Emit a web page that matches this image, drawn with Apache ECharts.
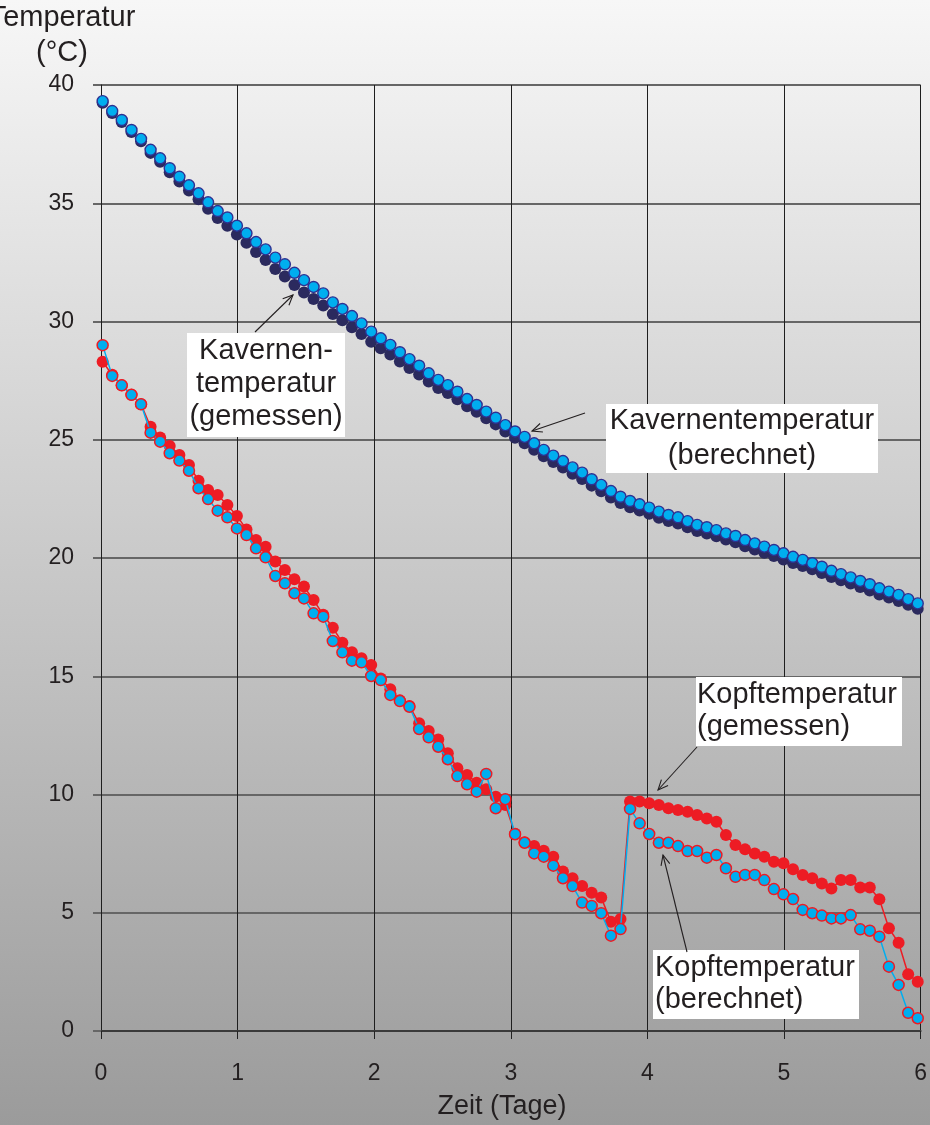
<!DOCTYPE html>
<html>
<head>
<meta charset="utf-8">
<script src="https://cdn.jsdelivr.net/npm/echarts@6/dist/echarts.min.js"></script>
<style>
  html, body { margin: 0; padding: 0; }
  #chart { width: 930px; height: 1125px; background: linear-gradient(to bottom, #f7f7f7 0%, #9b9b9b 100%); }
</style>
</head>
<body>
<div id="chart"></div>
<script>
// Sampling times (days) read from the point positions
const times = [0.012, 0.082, 0.152, 0.223, 0.293, 0.363, 0.433, 0.503, 0.574, 0.644,
  0.714, 0.784, 0.854, 0.925, 0.995, 1.065, 1.135, 1.205, 1.276, 1.346,
  1.416, 1.486, 1.556, 1.627, 1.697, 1.767, 1.837, 1.907, 1.978, 2.048,
  2.118, 2.188, 2.258, 2.329, 2.399, 2.469, 2.539, 2.609, 2.680, 2.750,
  2.820, 2.890, 2.960, 3.031, 3.101, 3.171, 3.241, 3.311, 3.382, 3.452,
  3.522, 3.592, 3.662, 3.733, 3.803, 3.873, 3.943, 4.013, 4.084, 4.154,
  4.224, 4.294, 4.364, 4.435, 4.505, 4.575, 4.645, 4.715, 4.786, 4.856,
  4.926, 4.996, 5.066, 5.137, 5.207, 5.277, 5.347, 5.417, 5.488, 5.558,
  5.628, 5.698, 5.768, 5.839, 5.909, 5.979];

// Kavernentemperatur (gemessen)
const kavMeasured = [39.25, 38.82, 38.44, 38.01, 37.62, 37.13, 36.75, 36.31, 35.92, 35.54,
  35.17, 34.77, 34.38, 34.05, 33.68, 33.33, 32.94, 32.60, 32.22, 31.90,
  31.54, 31.23, 30.95, 30.68, 30.32, 30.05, 29.76, 29.47, 29.14, 28.87,
  28.60, 28.31, 28.03, 27.76, 27.46, 27.19, 26.98, 26.71, 26.42, 26.18,
  25.91, 25.65, 25.35, 25.08, 24.85, 24.58, 24.30, 24.06, 23.83, 23.56,
  23.34, 23.06, 22.82, 22.56, 22.33, 22.15, 22.01, 21.87, 21.70, 21.56,
  21.46, 21.30, 21.14, 21.04, 20.92, 20.78, 20.67, 20.50, 20.36, 20.22,
  20.08, 19.94, 19.79, 19.66, 19.52, 19.37, 19.20, 19.06, 18.92, 18.77,
  18.63, 18.46, 18.33, 18.18, 18.02, 17.85];

// Kavernentemperatur (berechnet)
const kavCalc = [39.32, 38.90, 38.52, 38.10, 37.72, 37.26, 36.90, 36.48, 36.12, 35.76,
  35.42, 35.04, 34.67, 34.40, 34.05, 33.73, 33.36, 33.05, 32.70, 32.42,
  32.06, 31.75, 31.46, 31.19, 30.81, 30.53, 30.23, 29.92, 29.57, 29.29,
  29.01, 28.70, 28.41, 28.13, 27.81, 27.53, 27.31, 27.03, 26.72, 26.47,
  26.19, 25.93, 25.62, 25.35, 25.12, 24.85, 24.57, 24.33, 24.10, 23.83,
  23.61, 23.33, 23.09, 22.83, 22.59, 22.41, 22.27, 22.13, 21.96, 21.82,
  21.72, 21.56, 21.40, 21.30, 21.18, 21.04, 20.93, 20.76, 20.62, 20.48,
  20.34, 20.20, 20.05, 19.92, 19.78, 19.63, 19.46, 19.32, 19.18, 19.03,
  18.89, 18.72, 18.58, 18.44, 18.26, 18.08];

// Kopftemperatur (gemessen)
const kopfMeasured = [28.30, 27.75, 27.30, 26.90, 26.50, 25.55, 25.10, 24.74, 24.36, 23.93,
  23.27, 22.88, 22.66, 22.24, 21.78, 21.21, 20.76, 20.48, 19.85, 19.49,
  19.10, 18.79, 18.22, 17.60, 17.05, 16.42, 16.01, 15.76, 15.48, 14.90,
  14.45, 13.98, 13.74, 13.01, 12.69, 12.33, 11.74, 11.11, 10.82, 10.50,
  10.22, 9.91, 9.56, 8.34, 7.98, 7.82, 7.62, 7.37, 6.74, 6.46,
  6.13, 5.85, 5.64, 4.62, 4.74, 9.70, 9.70, 9.63, 9.56, 9.42,
  9.34, 9.27, 9.13, 8.99, 8.85, 8.29, 7.86, 7.68, 7.51, 7.37,
  7.16, 7.09, 6.84, 6.60, 6.46, 6.24, 6.03, 6.38, 6.38, 6.07,
  6.07, 5.57, 4.34, 3.73, 2.40, 2.08];

// Kopftemperatur (berechnet)
const kopfCalc = [29.00, 27.70, 27.30, 26.90, 26.50, 25.30, 24.92, 24.43, 24.12, 23.69,
  22.95, 22.49, 22.00, 21.72, 21.25, 20.97, 20.41, 20.03, 19.24, 18.93,
  18.51, 18.29, 17.66, 17.52, 16.49, 16.01, 15.66, 15.59, 15.01, 14.84,
  14.21, 13.95, 13.71, 12.77, 12.42, 12.02, 11.49, 10.78, 10.43, 10.12,
  10.87, 9.42, 9.80, 8.32, 7.96, 7.51, 7.37, 6.99, 6.46, 6.13,
  5.43, 5.29, 4.98, 4.03, 4.31, 9.39, 8.78, 8.33, 7.96, 7.96,
  7.82, 7.61, 7.61, 7.33, 7.44, 6.88, 6.52, 6.60, 6.60, 6.38,
  6.00, 5.78, 5.58, 5.12, 4.98, 4.88, 4.76, 4.76, 4.90, 4.30,
  4.24, 3.99, 2.72, 1.95, 0.77, 0.54];

const xTickLabels = ['0', '1', '2', '3', '4', '5', '6'];
const yTickLabels = ['0', '5', '10', '15', '20', '25', '30', '35', '40'];

const FONT = "'Liberation Sans', Arial, Helvetica, sans-serif";
const TXT = '#231f20';

function pairs(vals) { return times.map((t, i) => [t, vals[i]]); }

function textEl(x, y, str, size, align) {
  return { type: 'text', x: x, y: y, z: 50,
    style: { text: str, fill: TXT, font: size + 'px ' + FONT, textAlign: align || 'center', textVerticalAlign: 'middle' } };
}
function boxEl(x1, y1, x2, y2) {
  return { type: 'rect', z: 45, shape: { x: x1, y: y1, width: x2 - x1, height: y2 - y1 }, style: { fill: '#ffffff' } };
}
function arrowEls(x1, y1, x2, y2) {
  const a = Math.atan2(y2 - y1, x2 - x1), L = 11, w = 0.42;
  const p1 = [x2 - L * Math.cos(a - w), y2 - L * Math.sin(a - w)];
  const p2 = [x2 - L * Math.cos(a + w), y2 - L * Math.sin(a + w)];
  const st = { stroke: '#231f20', lineWidth: 1.1, fill: null };
  return [
    { type: 'line', z: 46, shape: { x1: x1, y1: y1, x2: x2, y2: y2 }, style: st },
    { type: 'polyline', z: 46, shape: { points: [p1, [x2, y2], p2] }, style: st }
  ];
}

const chart = echarts.init(document.getElementById('chart'), null, { renderer: 'canvas' });

const graphics = [].concat(
  [textEl(62, 18, 'Temperatur', 29), textEl(62, 53, '(°C)', 29), textEl(502, 1107, 'Zeit (Tage)', 27)],
  [boxEl(187, 333, 345, 437), textEl(266, 351, 'Kavernen-', 29), textEl(266, 384, 'temperatur', 29), textEl(266, 417, '(gemessen)', 29)],
  arrowEls(255, 332, 293, 295),
  [boxEl(606, 404, 878, 473), textEl(742, 421, 'Kavernentemperatur', 29), textEl(742, 456, '(berechnet)', 29)],
  arrowEls(585, 413, 532, 431),
  [boxEl(696, 677, 902, 746), textEl(697, 694.5, 'Kopftemperatur', 29, 'left'), textEl(697, 726.5, '(gemessen)', 29, 'left')],
  arrowEls(697, 747, 658, 790),
  [boxEl(653, 950, 859, 1019), textEl(655, 968, 'Kopftemperatur', 29, 'left'), textEl(655, 1000, '(berechnet)', 29, 'left')],
  arrowEls(687, 952, 663, 855)
);

chart.setOption({
  backgroundColor: 'transparent',
  animation: false,
  textStyle: { fontFamily: FONT },
  grid: { left: 101, right: 8, top: 85, bottom: 94, containLabel: false },
  xAxis: {
    type: 'value', min: 0, max: 6, interval: 1,
    axisLine: { show: true, onZero: false, lineStyle: { color: '#3a3a3a', width: 2 } },
    axisTick: { show: true, length: 8, lineStyle: { color: '#222', width: 1 } },
    axisLabel: { margin: 31, fontSize: 23, color: TXT, fontFamily: FONT,
      formatter: v => xTickLabels[Math.round(v)] },
    splitLine: { show: true, lineStyle: { color: '#1e1e1e', width: 1 } }
  },
  yAxis: {
    type: 'value', min: 0, max: 40, interval: 5,
    axisLine: { show: true, lineStyle: { color: '#1e1e1e', width: 1 } },
    axisTick: { show: true, length: 8, lineStyle: { color: '#666', width: 2 } },
    axisLabel: { margin: 27, fontSize: 23, color: TXT, fontFamily: FONT,
      formatter: v => yTickLabels[Math.round(v / 5)] },
    splitLine: { show: true, lineStyle: { color: '#666', width: 2 } }
  },
  series: [
    { name: 'Kavernentemperatur (gemessen)', type: 'scatter', data: pairs(kavMeasured),
      symbol: 'circle', symbolSize: 12, itemStyle: { color: '#2b2a5e', opacity: 1 }, z: 2 },
    { name: 'Kavernentemperatur (berechnet)', type: 'scatter', data: pairs(kavCalc),
      symbol: 'circle', symbolSize: 11, itemStyle: { color: '#00aeef', borderColor: '#2e3192', borderWidth: 1.4, opacity: 1 }, z: 3 },
    { name: 'Kopftemperatur (gemessen)', type: 'line', data: pairs(kopfMeasured),
      symbol: 'circle', symbolSize: 12, showAllSymbol: true,
      lineStyle: { color: '#ed1c24', width: 1.5 }, itemStyle: { color: '#ed1c24', opacity: 1 }, z: 4 },
    { name: 'Kopftemperatur (berechnet)', type: 'line', data: pairs(kopfCalc),
      symbol: 'circle', symbolSize: 11, showAllSymbol: true,
      lineStyle: { color: '#00aeef', width: 1.5 },
      itemStyle: { color: '#00aeef', borderColor: '#ed1c24', borderWidth: 1.5, opacity: 1 }, z: 5 }
  ],
  graphic: graphics
});
</script>
</body>
</html>
